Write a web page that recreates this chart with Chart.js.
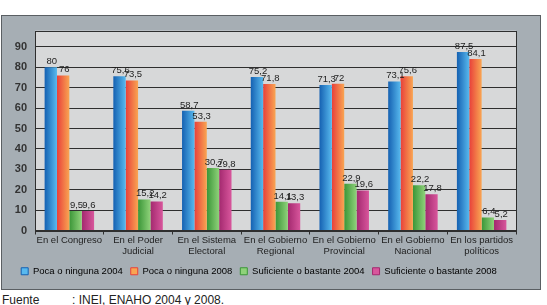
<!DOCTYPE html>
<html>
<head>
<meta charset="utf-8">
<script src="https://cdn.jsdelivr.net/npm/chart.js@4"></script>
<style>
  body { margin: 0; background: #fff; width: 547px; height: 305px; overflow: hidden; position: relative; font-family: "Liberation Sans", Arial, sans-serif; }
  #box { position: absolute; left: 1px; top: 15px; width: 538px; height: 273px; background: #a6aeb4; border: 1px solid #5a5f63; }
  #box canvas { display: block; }
  .src { position: absolute; top: 293px; font-size: 12px; color: #222; }
</style>
</head>
<body>
<div id="box"><canvas id="main_chart" width="538" height="273"></canvas></div>
<div class="src" style="left:2px">Fuente</div>
<div class="src" style="left:72px">: INEI, ENAHO 2004 y 2008.</div>
<script>
const categories = [
  ['En el Congreso'], ['En el Poder', 'Judicial'], ['En el Sistema', 'Electoral'],
  ['En el Gobierno', 'Regional'], ['En el Gobierno', 'Provincial'], ['En el Gobierno', 'Nacional'],
  ['En los partidos', 'políticos'],
];
const series_names = [
  'Poca o ninguna 2004', 'Poca o ninguna 2008',
  'Suficiente o bastante 2004', 'Suficiente o bastante 2008',
];
const poca_2004 = [80, 75.6, 58.7, 75.2, 71.3, 73.1, 87.5];
const poca_2008 = [76, 73.5, 53.3, 71.8, 72, 75.6, 84.1];
const suf_2004 = [9.5, 15.2, 30.7, 14.1, 22.9, 22.2, 6.4];
const suf_2008 = [9.6, 14.2, 29.8, 13.3, 19.6, 17.8, 5.2];
const y_ticks = [0, 10, 20, 30, 40, 50, 60, 70, 80, 90];

const cat_pct = 0.72;
const bar_colors = [
  ['#1561b2', '#58b9ee'],
  ['#e8403a', '#f9a552'],
  ['#3b9638', '#8fd27a'],
  ['#a3296f', '#d8569c'],
];
const font_family = '"Liberation Sans", Arial, sans-serif';

const gradient_fill = (ctx) => {
  const chart = ctx.chart;
  const pair = bar_colors[ctx.datasetIndex];
  const xs = chart.scales.x;
  if (!xs || ctx.dataIndex === undefined) return pair[0];
  const cat_w = (xs.right - xs.left) / categories.length;
  const bar_w = cat_w * cat_pct / 4;
  const left = xs.getPixelForValue(ctx.dataIndex) - cat_w * cat_pct / 2 + ctx.datasetIndex * bar_w;
  const g = chart.ctx.createLinearGradient(left, 0, left + bar_w, 0);
  g.addColorStop(0, pair[0]);
  g.addColorStop(1, pair[1]);
  return g;
};

const plot_bg = {
  id: 'plot_bg',
  beforeDraw(chart) {
    const { ctx, chartArea: a } = chart;
    ctx.save();
    ctx.fillStyle = '#d7d8d9';
    ctx.fillRect(a.left, a.top, a.right - a.left, a.bottom - a.top);
    ctx.restore();
  },
  afterDatasetsDraw(chart) {
    const { ctx, chartArea: a } = chart;
    ctx.save();
    ctx.strokeStyle = '#2e2e2e';
    ctx.lineWidth = 1;
    ctx.strokeRect(Math.round(a.left) + 0.5, Math.round(a.top) + 0.5, Math.round(a.right - a.left), Math.round(a.bottom - a.top));
    // value labels
    ctx.font = '9.5px ' + font_family;
    ctx.fillStyle = '#1e1e1e';
    ctx.textAlign = 'center';
    ctx.textBaseline = 'bottom';
    chart.data.datasets.forEach((ds, di) => {
      chart.getDatasetMeta(di).data.forEach((bar, i) => {
        const txt = String(ds.data[i]).replace('.', ',');
        ctx.fillText(txt, bar.x + 1, bar.y - 1);
      });
    });
    ctx.restore();
  },
};

new Chart('main_chart', {
  type: 'bar',
  data: {
    labels: categories,
    datasets: [poca_2004, poca_2008, suf_2004, suf_2008].map((arr, i) => ({
      label: series_names[i],
      data: arr,
      backgroundColor: gradient_fill,
      borderWidth: 0,
      barPercentage: 1,
      categoryPercentage: cat_pct,
    })),
  },
  options: {
    responsive: false,
    animation: false,
    layout: { padding: { top: 11, right: 24, bottom: 3, left: 0 } },
    plugins: {
      tooltip: { enabled: false },
      legend: {
        position: 'bottom',
        labels: {
          boxWidth: 7,
          boxHeight: 7,
          padding: 8,
          color: '#1e1e1e',
          font: { size: 9.5, family: font_family },
          generateLabels: (chart) => chart.data.datasets.map((ds, i) => ({
            text: ds.label,
            fillStyle: bar_colors[i][1],
            strokeStyle: bar_colors[i][0],
            lineWidth: 1,
            datasetIndex: i,
          })),
        },
      },
    },
    scales: {
      x: {
        grid: { display: true, drawOnChartArea: false, offset: true, tickLength: 4, color: '#2e2e2e' },
        border: { display: false },
        ticks: {
          color: '#1e1e1e',
          padding: 1,
          autoSkip: false,
          maxRotation: 0,
          font: { size: 9.5, family: font_family, lineHeight: 1.1 },
        },
        afterFit: (scale) => { scale.height = 28; },
      },
      y: {
        min: 0,
        max: 98,
        afterBuildTicks: (scale) => { scale.ticks = y_ticks.map(v => ({ value: v })); },
        grid: { color: '#2e2e2e', drawTicks: false },
        border: { display: false },
        ticks: {
          color: '#333',
          padding: 8,
          font: { size: 11, weight: 'bold', family: font_family },
        },
        afterFit: (scale) => { scale.width = 33; },
      },
    },
  },
  plugins: [plot_bg],
});
</script>
</body>
</html>
